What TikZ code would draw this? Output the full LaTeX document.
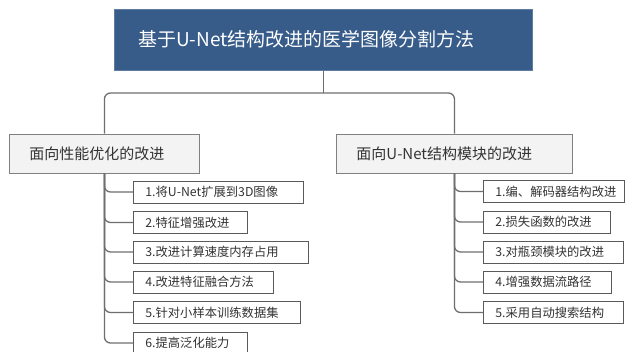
\documentclass[tikz,border=0pt]{standalone}
\usepackage{fontspec}
\setmainfont{Noto Sans CJK SC}
\usetikzlibrary{calc}
\definecolor{titleblue}{HTML}{375C8A}
\definecolor{branchfill}{HTML}{F3F3F3}
\definecolor{branchline}{HTML}{808080}
\definecolor{linkgray}{HTML}{6F6F6F}
\definecolor{subline}{HTML}{5A5A5A}
\tikzset{
  titlebox/.style={draw=titleblue!80!white, fill=titleblue, text=white, anchor=west,
    minimum height=61pt, inner xsep=24pt, inner ysep=0pt, align=left,
    font=\fontsize{19}{22}\selectfont},
  branchbox/.style={draw=branchline, line width=0.9pt, fill=branchfill, anchor=west,
    minimum height=39pt, inner xsep=20pt, inner ysep=0pt, align=left, text=black!80,
    font=\fontsize{15}{18}\selectfont},
  subbox/.style={draw=subline, line width=0.8pt, fill=white, anchor=west,
    minimum height=22pt, inner xsep=12pt, inner ysep=0pt, align=left, text=black!80,
    font=\fontsize{12.3}{14}\selectfont},
  link/.style={draw=linkgray, line width=1.3pt, rounded corners=6pt}
}
\begin{document}
\begin{tikzpicture}[x=1pt,y=-1pt]
\clip (0,0) rectangle (629,352);
\fill[white] (0,0) rectangle (629,352);
% title
\node[titlebox, text width=370pt] (T) at (114,39.5) {基于U-Net结构改进的医学图像分割方法};
% branches
\node[branchbox, text width=150pt] (L) at (9,153.5) {面向性能优化的改进};
\node[branchbox, text width=196pt] (R) at (336,153.5) {面向U-Net结构模块的改进};
% left items
\node[subbox, text width=146pt] (l1) at (133,192) {1.将U-Net扩展到3D图像};
\node[subbox, text width=90pt]  (l2) at (133,222.5) {2.特征增强改进};
\node[subbox, text width=151pt] (l3) at (133,252) {3.改进计算速度内存占用};
\node[subbox, text width=116pt] (l4) at (133,282) {4.改进特征融合方法};
\node[subbox, text width=143pt] (l5) at (133,312.5) {5.针对小样本训练数据集};
\node[subbox, text width=90pt]  (l6) at (133,343) {6.提高泛化能力};
% right items
\node[subbox, text width=117pt] (r1) at (483,191.5) {1.编、解码器结构改进};
\node[subbox, text width=103pt] (r2) at (483,222) {2.损失函数的改进};
\node[subbox, text width=116pt] (r3) at (483,252) {3.对瓶颈模块的改进};
\node[subbox, text width=104pt] (r4) at (483,282) {4.增强数据流路径};
\node[subbox, text width=116pt] (r5) at (483,312.5) {5.采用自动搜索结构};
% connectors
\coordinate (J) at (T.south |- 0,93);
\draw[link] (T.south) -- (J);
\draw[link] (L.north) |- (J) -| (R.north);
\foreach \n in {l1,l2,l3,l4,l5,l6}{
  \draw[link] (L.south) |- (\n.west);
}
\foreach \n in {r1,r2,r3,r4,r5}{
  \draw[link] (R.south) |- (\n.west);
}
\end{tikzpicture}
\end{document}
